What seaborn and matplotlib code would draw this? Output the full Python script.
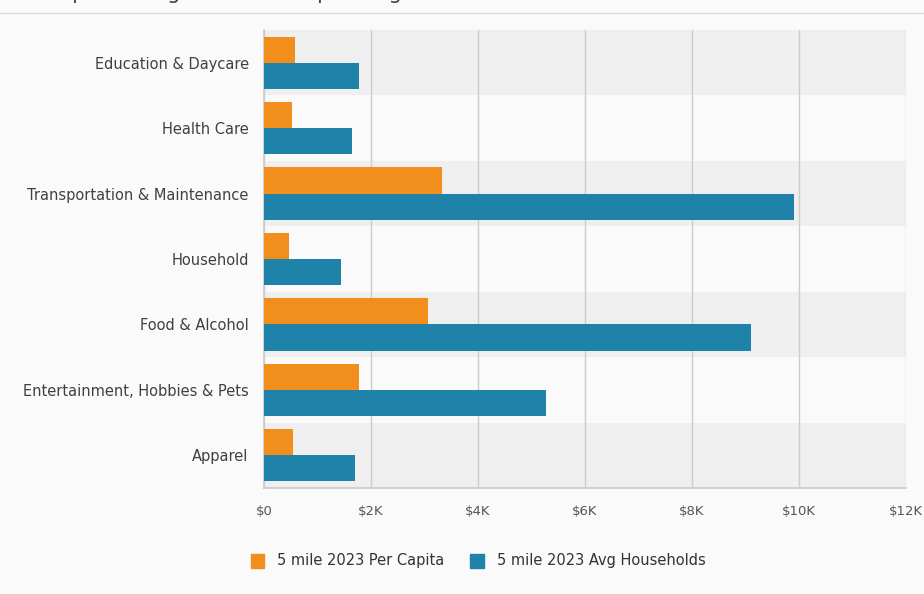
import matplotlib
matplotlib.use("Agg")
import matplotlib.pyplot as plt
import seaborn as sns
import pandas as pd
from matplotlib.patches import FancyBboxPatch
from matplotlib.lines import Line2D

categories = ["Education & Daycare", "Health Care", "Transportation & Maintenance",
              "Household", "Food & Alcohol", "Entertainment, Hobbies & Pets", "Apparel"]
per_capita = [580, 520, 3330, 470, 3060, 1770, 540]
avg_households = [1770, 1640, 9910, 1430, 9110, 5280, 1700]
series_names = ["5 mile 2023 Per Capita", "5 mile 2023 Avg Households"]
x_ticks = [0, 2000, 4000, 6000, 8000, 10000, 12000]
x_tick_labels = ["$0", "$2K", "$4K", "$6K", "$8K", "$10K", "$12K"]
title = "Per Capita & Avg Household Spending"

colors = ["#f28e1c", "#1f82a8"]

df = pd.DataFrame({
    "category": categories * 2,
    "value": per_capita + avg_households,
    "series": [series_names[0]] * len(categories) + [series_names[1]] * len(categories),
})

sns.set_theme(style="white")
plt.rcParams['font.family'] = ['DejaVu Sans']

fig = plt.figure(figsize=(9.24, 5.94), dpi=100, facecolor="#fafafa")
ax = fig.add_axes([264/924, 1 - 488/594, (906-264)/924, (488-30)/594])
ax.set_facecolor("#fafafa")

for i in range(len(categories)):
    ax.axhspan(i - 0.5, i + 0.5, color="#efefef" if i % 2 == 0 else "#fafafa", zorder=0, lw=0)

sns.barplot(data=df, x="value", y="category", hue="series", order=categories,
            hue_order=series_names, palette=colors, width=0.8, saturation=1,
            ax=ax, zorder=3, legend=False, linewidth=0)

ax.set_xlim(0, 12000)
ax.set_ylim(len(categories) - 0.5, -0.5)
ax.set_xticks(x_ticks)
ax.set_xticklabels(x_tick_labels, fontsize=9.5, color="#555555")
ax.tick_params(axis="x", length=4, color="#cccccc", pad=8)
ax.tick_params(axis="y", length=0, labelsize=10.5, labelcolor="#404040", pad=11)
ax.xaxis.grid(True, color="#cccccc", lw=1, zorder=1)
ax.set_axisbelow(True)
ax.set_xlabel("")
ax.set_ylabel("")
for s in ["top", "right"]:
    ax.spines[s].set_visible(False)
ax.spines["left"].set_color("#cccccc")
ax.spines["bottom"].set_color("#cccccc")

# title, cropped at the top edge as in the reference (only descenders visible)
fig.text(5/924, 1.0 + 1/594, title, fontsize=15, color="#444444", va="baseline", ha="left")
fig.add_artist(Line2D([0, 1], [1 - 13/594, 1 - 13/594], color="#dddddd", lw=1, transform=fig.transFigure))

handles = [FancyBboxPatch((0, 0), 1, 1, boxstyle="round,pad=0.1", color=c) for c in colors]
leg = fig.legend(handles, series_names, loc="center", bbox_to_anchor=(478/924, 1 - 561/594),
                 ncol=2, frameon=False, fontsize=10.5, handlelength=0.9, handleheight=1.1,
                 columnspacing=1.8, handletextpad=0.9)
for t in leg.get_texts():
    t.set_color("#333333")

fig.savefig("out.png", dpi=100, facecolor=fig.get_facecolor())
